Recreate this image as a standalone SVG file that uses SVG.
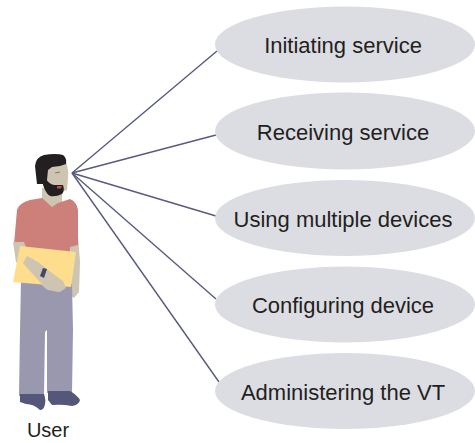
<svg xmlns="http://www.w3.org/2000/svg" width="475" height="443" viewBox="0 0 475 443">
  <style>
    .uc ellipse { fill: #dcdde3; }
    .uc text { font-family: "Liberation Sans", Arial, sans-serif; font-size: 22px; fill: #231f20; text-anchor: middle; }
    .link { stroke: #585a80; stroke-width: 1.4; fill: none; }
    .skin { fill: #cdc4b2; }
    .hair { fill: #231f20; }
  </style>

  <!-- connectors from the actor to each use case -->
  <g id="connectors">
    <line class="link" x1="72" y1="173" x2="217" y2="51"/>
    <line class="link" x1="72" y1="173" x2="216" y2="135"/>
    <line class="link" x1="72" y1="173" x2="216" y2="216"/>
    <line class="link" x1="72" y1="173" x2="216" y2="299"/>
    <line class="link" x1="72" y1="173" x2="219" y2="382"/>
  </g>

  <!-- use cases -->
  <g id="uc-initiating" class="uc">
    <ellipse cx="345" cy="44.5" rx="130" ry="38"/>
    <text x="343" y="53">Initiating service</text>
  </g>
  <g id="uc-receiving" class="uc">
    <ellipse cx="345" cy="131" rx="130" ry="38.5"/>
    <text x="343" y="139.5">Receiving service</text>
  </g>
  <g id="uc-multiple" class="uc">
    <ellipse cx="345" cy="218" rx="130" ry="38"/>
    <text x="343" y="226.5">Using multiple devices</text>
  </g>
  <g id="uc-configuring" class="uc">
    <ellipse cx="345" cy="304.5" rx="130" ry="38"/>
    <text x="343" y="313">Configuring device</text>
  </g>
  <g id="uc-administering" class="uc">
    <ellipse cx="345" cy="391" rx="130" ry="38"/>
    <text x="343" y="400">Administering the VT</text>
  </g>

  <!-- actor -->
  <g id="actor-user">
    <!-- back arm -->
    <path class="skin" d="M68,238 L78,236 L80,262 L79,292 L74,298 L69,294 L67,262 Z"/>
    <!-- trousers -->
    <path fill="#9a98ae" d="M21,280 L72,284 L73,330 L72,393 L47,393 L47,330 L45,332 L44,396 L19,396 L20,330 Z"/>
    <!-- shoes -->
    <path fill="#54567a" d="M20,394 L44,394 Q46,400 45,404 Q44,410 40,410 Q34,404 26,404 L20,402 Z"/>
    <path fill="#54567a" d="M48,391 L70,391 Q77,395 80,400 Q79,405 72,406 Q62,404 52,405 L48,400 Z"/>
    <!-- neck -->
    <path class="skin" d="M42,188 L62,188 L62,203 L52,209 L42,203 Z"/>
    <!-- shirt -->
    <path fill="#cd8079" d="M14,244 L17,210 Q19,203 30,200 L42,198 L52,207 L58,203 L70,199 Q77,202 78,210 L78,245 L70,247 L70,256 L22,256 L20,244 Z"/>
    <!-- front arm -->
    <path class="skin" d="M13,242 L24,242 L27,250 L40,262 L52,272 L60,280 L64,288 L58,292 L46,289 L36,279 L24,268 L16,262 Z"/>
    <!-- folder -->
    <path fill="#fedd8c" d="M20,246 L76,252 L71,287 L13,282 Z"/>
    <!-- hand over folder -->
    <path class="skin" d="M27,256 L38,262 L48,270 L56,276 L63,281 L66,288 L60,292 L48,290 L40,282 L30,271 L23,263 Z"/>
    <!-- watch -->
    <path fill="#44466b" d="M40,276 L43,268 L47,269 L44,278 Z"/>
    <!-- face -->
    <path class="skin" d="M45,164 L66,162 Q69,170 68,178 L67,190 L55,194 L45,190 Z"/>
    <!-- hair -->
    <path class="hair" d="M35,166 Q36,157 44,155 Q56,153 63,155 Q67,158 66,164 L60,166 L52,167 L48,170 L47,180 L43,184 L37,184 Z"/>
    <!-- beard -->
    <path class="hair" d="M42,180 L46,179 Q49,184 54,185 L63,185 Q65,191 62,194 Q56,197 50,196 Q44,192 42,180 Z"/>
    <path fill="#b2553f" d="M57,186 L62,186 L61,188.5 L57,188.5 Z"/>
    <!-- eye and brow -->
    <path d="M55,173 L60,172" stroke="#6e6458" stroke-width="0.8" fill="none"/>
  </g>
  <text x="48" y="437" font-family="Liberation Sans, Arial, sans-serif" font-size="20" fill="#231f20" text-anchor="middle">User</text>
</svg>
